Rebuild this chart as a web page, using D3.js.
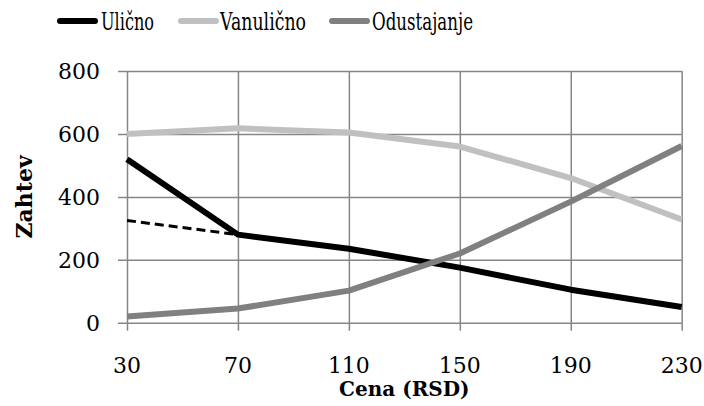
<!DOCTYPE html>
<html>
<head>
<meta charset="utf-8">
<script src="https://cdn.jsdelivr.net/npm/d3@7"></script>
<style>
  html, body { margin: 0; padding: 0; background: #fff; }
  svg { display: block; }
</style>
</head>
<body>
<div id="chart"></div>
<script>
// Price levels (RSD) on the x axis
const prices = ["30", "70", "110", "150", "190", "230"];

// Demand by channel at each price
const ulicno = [520, 280, 235, 175, 105, 50];
const vanulicno = [600, 618, 605, 560, 460, 328];
const odustajanje = [20, 45, 102, 220, 385, 562];

// Alternative street-demand segment (dashed) between the first two prices
const ulicnoAltPrices = ["30", "70"];
const ulicnoAlt = [325, 280];

const yTicks = [0, 200, 400, 600, 800];

const seriesNames = ["Ulično", "Vanulično", "Odustajanje"];
const seriesColors = ["#000000", "#c0c0c0", "#808080"];
const seriesValues = [ulicno, vanulicno, odustajanje];

const W = 704, H = 406;
const margin = { left: 127, right: 22.3, top: 71.1, bottom: 83.3 };

const svg = d3.select("#chart").append("svg")
  .attr("width", W).attr("height", H);

const x = d3.scalePoint()
  .domain(prices)
  .range([margin.left, W - margin.right]);

const y = d3.scaleLinear()
  .domain([0, 800])
  .range([H - margin.bottom, margin.top]);

const gridColor = "#868686";
const serif = "'DejaVu Serif', serif";

// Horizontal gridlines + left tick marks
svg.append("g")
  .attr("transform", `translate(${margin.left},0)`)
  .call(d3.axisLeft(y).tickValues(yTicks).tickSize(0).tickFormat(""))
  .call(g => g.select(".domain").remove())
  .call(g => g.selectAll(".tick line")
    .attr("stroke", gridColor).attr("stroke-width", 1.5)
    .attr("x1", -9).attr("x2", W - margin.left - margin.right));

// Vertical gridlines + bottom tick marks
svg.append("g")
  .attr("transform", `translate(0,${H - margin.bottom})`)
  .call(d3.axisBottom(x).tickSize(0).tickFormat(""))
  .call(g => g.select(".domain").remove())
  .call(g => g.selectAll(".tick line")
    .attr("stroke", gridColor).attr("stroke-width", 1.5)
    .attr("y1", 8).attr("y2", -(H - margin.bottom - margin.top)));

// Y tick labels
svg.append("g")
  .selectAll("text")
  .data(yTicks)
  .join("text")
  .attr("x", 100)
  .attr("y", d => y(d))
  .attr("dy", "0.36em")
  .attr("text-anchor", "end")
  .attr("font-family", serif)
  .attr("font-size", 22)
  .attr("fill", "#000")
  .text(d => d);

// X tick labels
svg.append("g")
  .selectAll("text")
  .data(prices)
  .join("text")
  .attr("x", d => x(d))
  .attr("y", 373)
  .attr("text-anchor", "middle")
  .attr("font-family", serif)
  .attr("font-size", 22)
  .attr("fill", "#000")
  .text(d => d);

// Axis titles
svg.append("text")
  .attr("x", (margin.left + W - margin.right) / 2)
  .attr("y", 396)
  .attr("text-anchor", "middle")
  .attr("font-family", serif)
  .attr("font-weight", "bold")
  .attr("font-size", 20)
  .text("Cena (RSD)");

svg.append("text")
  .attr("transform", `translate(32,${(margin.top + H - margin.bottom) / 2}) rotate(-90)`)
  .attr("text-anchor", "middle")
  .attr("font-family", serif)
  .attr("font-weight", "bold")
  .attr("font-size", 22)
  .text("Zahtev");

// Series lines
const line = d3.line()
  .x((d, i) => x(prices[i]))
  .y(d => y(d));

svg.append("g")
  .selectAll("path")
  .data(seriesValues)
  .join("path")
  .attr("d", d => line(d))
  .attr("fill", "none")
  .attr("stroke", (d, i) => seriesColors[i])
  .attr("stroke-width", 6)
  .attr("stroke-linejoin", "round");

// Dashed alternative segment
const altLine = d3.line()
  .x((d, i) => x(ulicnoAltPrices[i]))
  .y(d => y(d));

svg.append("path")
  .attr("d", altLine(ulicnoAlt))
  .attr("fill", "none")
  .attr("stroke", "#000")
  .attr("stroke-width", 3)
  .attr("stroke-dasharray", "9,5");

// Legend
const legendItems = [
  { name: seriesNames[0], color: seriesColors[0], x0: 57, tx: 101, tw: 53 },
  { name: seriesNames[1], color: seriesColors[1], x0: 178, tx: 220, tw: 86 },
  { name: seriesNames[2], color: seriesColors[2], x0: 329, tx: 372, tw: 101 }
];

const legend = svg.append("g");
legend.selectAll("line")
  .data(legendItems)
  .join("line")
  .attr("x1", d => d.x0 + 3).attr("x2", d => d.x0 + 38)
  .attr("y1", 21).attr("y2", 21)
  .attr("stroke", d => d.color)
  .attr("stroke-width", 6)
  .attr("stroke-linecap", "round");

legend.selectAll("text")
  .data(legendItems)
  .join("text")
  .attr("x", d => d.tx)
  .attr("y", 30)
  .attr("font-family", serif)
  .attr("font-size", 25)
  .attr("textLength", d => d.tw)
  .attr("lengthAdjust", "spacingAndGlyphs")
  .text(d => d.name);
</script>
</body>
</html>
